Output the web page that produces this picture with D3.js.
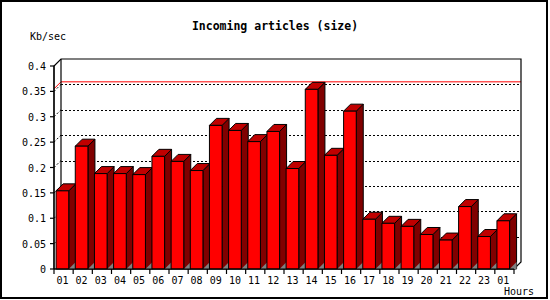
<!DOCTYPE html>
<html>
<head>
<meta charset="utf-8">
<script src="https://cdn.jsdelivr.net/npm/d3@7"></script>
<style>
  body { margin: 0; background: #fff; }
  svg { display: block; }
</style>
</head>
<body>
<div class="chartContainer"></div>
<script>
//Colors
var frontFill = "#ff0000";
var sideFill = "#800000";
var topFill = "#c00000";
var floorFill = "#808080";
var lineColor = "#000";
var maxColor = "#ff0000";

// Data
var hours = ["01", "02", "03", "04", "05", "06", "07", "08", "09", "10", "11", "12",
             "13", "14", "15", "16", "17", "18", "19", "20", "21", "22", "23", "01"];
var sizes = [0.154, 0.242, 0.188, 0.188, 0.186, 0.222, 0.212, 0.194, 0.283, 0.273, 0.251, 0.271,
             0.198, 0.354, 0.224, 0.311, 0.098, 0.090, 0.084, 0.068, 0.057, 0.123, 0.064, 0.095];
var yTicks = [0, 0.05, 0.1, 0.15, 0.2, 0.25, 0.3, 0.35, 0.4];
var yTickLabels = ["0", "0.05", "0.1", "0.15", "0.2", "0.25", "0.3", "0.35", "0.4"];
var gridValues = [0.05, 0.1, 0.15, 0.2, 0.25, 0.3, 0.35];
var maxValue = 0.355;

var width = 550, height = 300;
var depth = 7;
var plotLeft = 54, plotRight = 514, plotBottom = 269, plotTop = 66;
var font = "'DejaVu Sans Mono', 'Liberation Mono', monospace";

var svg = d3.select(".chartContainer").append("svg")
    .attr("width", width)
    .attr("height", height);

// frame
svg.append("rect")
    .attr("x", 1).attr("y", 1)
    .attr("width", 546).attr("height", 297)
    .attr("fill", "#fff")
    .attr("stroke", lineColor)
    .attr("stroke-width", 2);

var y = d3.scaleLinear().domain([0, 0.4]).range([plotBottom, plotTop]);
var x = d3.scaleBand().domain(d3.range(hours.length)).range([plotLeft, plotRight]).paddingInner(0).paddingOuter(0);
var slot = x.bandwidth();
var barOff = slot * 0.11;
var barW = slot * 0.66;

// title and axis names
svg.append("text")
    .attr("x", 275).attr("y", 30)
    .attr("text-anchor", "middle")
    .attr("font-family", font)
    .attr("font-weight", "bold")
    .attr("font-size", "11.5px")
    .text("Incoming articles (size)");

svg.append("text")
    .attr("x", 30).attr("y", 40)
    .attr("font-family", font)
    .attr("font-size", "10px")
    .text("Kb/sec");

svg.append("text")
    .attr("x", 534).attr("y", 295)
    .attr("text-anchor", "end")
    .attr("font-family", font)
    .attr("font-size", "10px")
    .text("Hours");

// back wall grid (dotted)
var grid = svg.append("g")
    .attr("stroke", lineColor)
    .attr("stroke-dasharray", "2,2")
    .attr("fill", "none");
grid.selectAll(".gridBack").data(gridValues).enter().append("line")
    .attr("class", "gridBack")
    .attr("x1", plotLeft + depth).attr("x2", plotRight + depth)
    .attr("y1", (d) => Math.round(y(d) - depth) + 0.5)
    .attr("y2", (d) => Math.round(y(d) - depth) + 0.5);
grid.selectAll(".gridSide").data(gridValues).enter().append("line")
    .attr("class", "gridSide")
    .attr("x1", plotLeft).attr("x2", plotLeft + depth)
    .attr("y1", (d) => y(d))
    .attr("y2", (d) => y(d) - depth);

// max line
svg.append("polyline")
    .attr("points", [[plotLeft, y(maxValue)], [plotLeft + depth, y(maxValue) - depth], [plotRight + depth, y(maxValue) - depth]].join(" "))
    .attr("fill", "none")
    .attr("stroke", maxColor)
    .attr("stroke-width", 1);

// walls
var walls = svg.append("g").attr("stroke", lineColor).attr("fill", "none").attr("stroke-width", 1.2);
walls.append("polyline")
    .attr("points", [[plotLeft, plotBottom], [plotLeft, plotTop], [plotLeft + depth, plotTop - depth], [plotRight + depth, plotTop - depth],
                     [plotRight + depth, plotBottom - depth], [plotRight, plotBottom], [plotLeft, plotBottom]].join(" "));
walls.append("line")
    .attr("x1", plotLeft + depth).attr("x2", plotLeft + depth)
    .attr("y1", plotTop - depth).attr("y2", plotBottom - depth);

// bars
var bars = svg.selectAll(".bar").data(sizes).enter().append("g").attr("class", "bar")
    .attr("stroke", lineColor)
    .attr("stroke-width", 1)
    .attr("stroke-linejoin", "round");

bars.append("polygon")
    .attr("points", (d, i) => {
        var x1 = x(i) + barOff + barW;
        return [[x1, y(d)], [x1 + depth, y(d) - depth], [x1 + depth, plotBottom], [x1, plotBottom]].join(" ");
    })
    .attr("fill", sideFill);

bars.append("polygon")
    .attr("points", (d, i) => {
        var x1 = x(i) + barOff + barW;
        return [[x1, plotBottom], [x1 + depth, plotBottom - depth], [x1 + depth, plotBottom]].join(" ");
    })
    .attr("fill", floorFill)
    .attr("stroke", "none");

bars.append("polygon")
    .attr("points", (d, i) => {
        var x0 = x(i) + barOff;
        return [[x0, y(d)], [x0 + depth, y(d) - depth], [x0 + barW + depth, y(d) - depth], [x0 + barW, y(d)]].join(" ");
    })
    .attr("fill", topFill);

bars.append("rect")
    .attr("x", (d, i) => x(i) + barOff)
    .attr("y", (d) => y(d))
    .attr("width", barW)
    .attr("height", (d) => plotBottom - y(d))
    .attr("fill", frontFill);

// front axes drawn over bars
var axes = svg.append("g").attr("stroke", lineColor).attr("stroke-width", 1.2);
axes.append("line").attr("x1", plotLeft).attr("x2", plotLeft).attr("y1", plotTop).attr("y2", plotBottom);
axes.append("line").attr("x1", plotLeft).attr("x2", plotRight).attr("y1", plotBottom).attr("y2", plotBottom);

// y ticks
axes.selectAll(".ytick").data(yTicks).enter().append("line")
    .attr("class", "ytick")
    .attr("x1", plotLeft - 4).attr("x2", plotLeft)
    .attr("y1", (d) => y(d)).attr("y2", (d) => y(d));
svg.selectAll(".ylabel").data(yTicks).enter().append("text")
    .attr("class", "ylabel")
    .attr("x", 46)
    .attr("y", (d) => y(d) + 4)
    .attr("text-anchor", "end")
    .attr("font-family", font)
    .attr("font-size", "10px")
    .text((d, i) => yTickLabels[i]);

// x ticks at slot boundaries
axes.selectAll(".xtick").data(d3.range(hours.length + 1)).enter().append("line")
    .attr("class", "xtick")
    .attr("x1", (i) => plotLeft + i * slot).attr("x2", (i) => plotLeft + i * slot)
    .attr("y1", plotBottom).attr("y2", plotBottom + 5);
svg.selectAll(".xlabel").data(hours).enter().append("text")
    .attr("class", "xlabel")
    .attr("x", (d, i) => x(i) + barOff + barW / 2)
    .attr("y", 284)
    .attr("text-anchor", "middle")
    .attr("font-family", font)
    .attr("font-size", "10px")
    .text((d) => d);
</script>
</body>
</html>
